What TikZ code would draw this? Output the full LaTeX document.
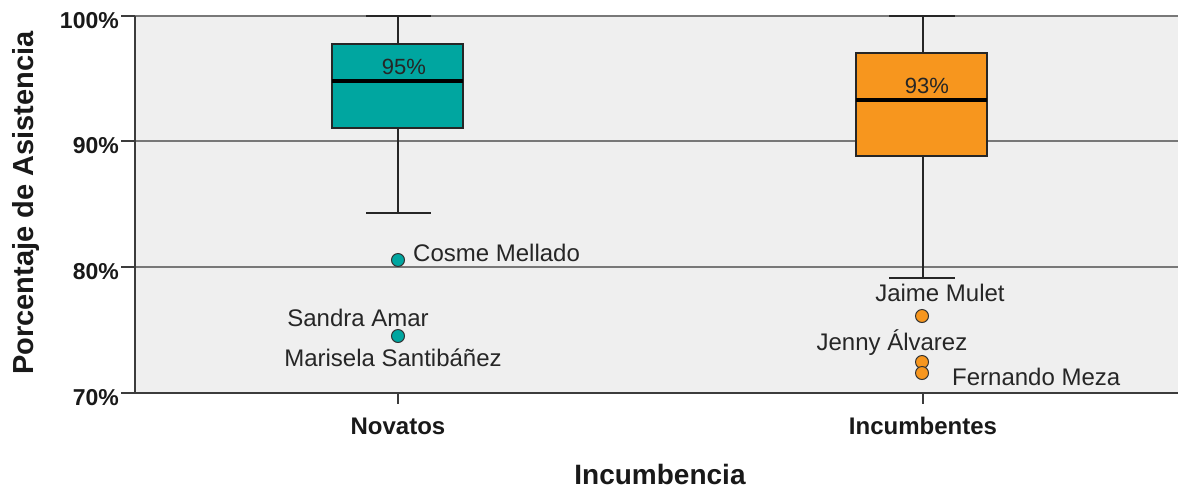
\documentclass[tikz,border=0pt]{standalone}
\usepackage{fontspec}
\setmainfont{Liberation Sans}
\definecolor{verdeazul}{RGB}{0,166,160}
\definecolor{naranja}{RGB}{247,150,30}
\definecolor{fondo}{RGB}{239,239,239}
\definecolor{rejilla}{RGB}{120,120,120}
\definecolor{ejes}{RGB}{60,60,60}

\begin{document}
\begin{tikzpicture}[x=1pt,y=-1pt]
\tikzset{caja/.style={draw=black!85, line width=1.5pt},
bigote/.style={draw=black!85, line width=2pt},
mediana/.style={draw=black, line width=3.5pt},
atipico/.style={draw=black!80, circle, line width=1pt, minimum size=13pt, inner sep=0pt},
etiq/.style={inner sep=0pt, font=\fontsize{24}{26}\selectfont, text=black!85},
valor/.style={inner sep=0pt, font=\fontsize{22}{24}\selectfont, text=black!85},
marca/.style={inner sep=0pt, font=\fontsize{23}{25}\selectfont\bfseries, text=black!90},
titulo/.style={inner sep=0pt, font=\fontsize{28}{30}\selectfont\bfseries, text=black!90}}
\useasboundingbox (0,0) rectangle (1178,491);
\fill[fondo] (135,16) rectangle (1178,393);
\foreach \y in {16,141,267}
  \draw[rejilla, line width=2.2pt] (135,\y) -- (1178,\y);
\foreach \y/\t in {16/100,141/90,267/80,393/70} {
  \draw[ejes, line width=2pt] (121,\y) -- (135,\y);
  \node[marca, anchor=east] (Y\t) at (119,\y+5) {\t\%};
}
\draw[ejes, line width=2pt] (398,393) -- (398,404);
\draw[ejes, line width=2pt] (923,393) -- (923,404);
\draw[bigote] (398,16) -- (398,44);
\draw[bigote] (398,128) -- (398,213);
\draw[bigote] (366,16) -- (431,16);
\draw[bigote] (366,213) -- (431,213);
\draw[caja, fill=verdeazul] (332,44) rectangle (463,128);
\draw[mediana] (332,81) -- (463,81);
\draw[bigote] (923,16) -- (923,53);
\draw[bigote] (923,156) -- (923,278);
\draw[bigote] (889,16) -- (955,16);
\draw[bigote] (889,278) -- (955,278);
\draw[caja, fill=naranja] (856,53) rectangle (987,156);
\draw[mediana] (856,100) -- (987,100);
\node[valor] (M1) at (404,67) {95\%};
\node[valor] (M2) at (927,86) {93\%};
\node[atipico, fill=verdeazul] (A1) at (398,260) {};
\node[atipico, fill=verdeazul] (A2) at (398,336) {};
\node[atipico, fill=naranja] (B1) at (922,316) {};
\node[atipico, fill=naranja] (B2) at (922,362) {};
\node[atipico, fill=naranja] (B3) at (922,373) {};
\node[etiq, anchor=west] (L1) at (413,253) {Cosme Mellado};
\node[etiq] (L2) at (358,318) {Sandra Amar};
\node[etiq] (L3) at (393,358) {Marisela Santibáñez};
\node[etiq] (L4) at (940,293) {Jaime Mulet};
\node[etiq] (L5) at (892,343) {Jenny Álvarez};
\node[etiq, anchor=west] (L6) at (952,377) {Fernando Meza};
\draw[ejes, line width=2.2pt] (135,16) -- (135,393) -- (1178,393);
\node[titulo, font=\fontsize{24}{26}\selectfont\bfseries] (X1) at (398,426) {Novatos};
\node[titulo, font=\fontsize{24}{26}\selectfont\bfseries] (X2) at (923,426) {Incumbentes};
\node[titulo] (XT) at (660,474) {Incumbencia};
\node[titulo, rotate=90, font=\fontsize{29}{31}\selectfont\bfseries] (YT) at (26,203) {Porcentaje de Asistencia};
\end{tikzpicture}
\end{document}
